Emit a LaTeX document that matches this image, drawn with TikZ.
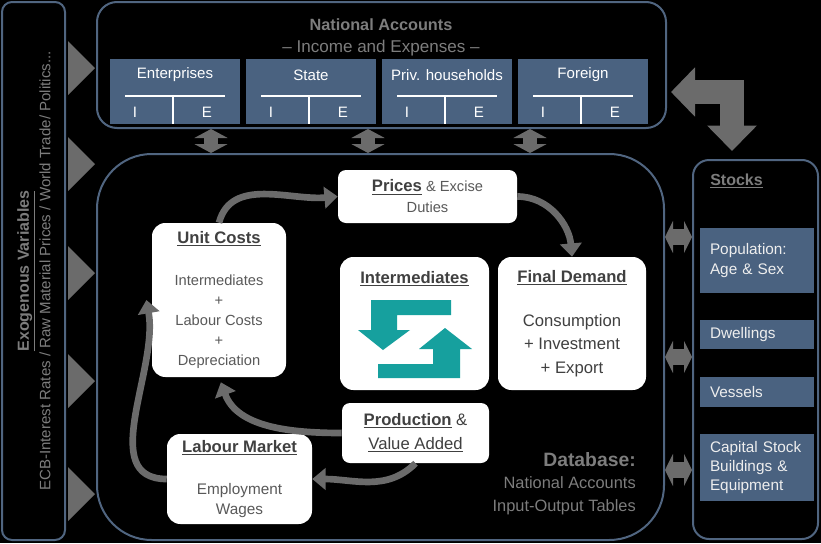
\documentclass[tikz,border=0pt]{standalone}
\usepackage{fontspec}
\setmainfont{Liberation Sans}
\usetikzlibrary{arrows.meta,positioning}

\definecolor{frameblue}{RGB}{80,101,128}
\definecolor{accblue}{RGB}{74,98,128}
\definecolor{arrgray}{RGB}{107,107,107}
\definecolor{txtgray}{RGB}{125,125,125}
\definecolor{boxtext}{RGB}{64,64,64}
\definecolor{boxbody}{RGB}{89,89,89}
\definecolor{stocktext}{RGB}{238,238,238}
\definecolor{iconteal}{RGB}{22,160,158}

\newcommand\headu[1]{{\color{boxtext}\bfseries\fontsize{12.5}{15}\selectfont\underline{#1}}}

\begin{document}
\begin{tikzpicture}[x=0.75pt,y=-0.75pt]
      \tikzset{
      frame/.style={draw=frameblue, line width=1.5pt, rounded corners=#1, inner sep=0pt},
      frame/.default=7.5pt,
      acc/.style={fill=accblue, inner sep=0pt, minimum width=97.5pt, minimum height=48.75pt},
      acctext/.style={text=white, inner sep=0pt, font=\fontsize{11.3}{13}\selectfont},
      stock/.style={fill=accblue, inner sep=0pt, minimum width=85.5pt, text width=70.5pt,
        align=left, text=stocktext, font=\fontsize{11.5}{14.5}\selectfont},
      wbox/.style={fill=white, rounded corners=#1, inner sep=0pt, align=center, text=boxbody},
      wbox/.default=10pt,
      gtext/.style={text=txtgray, inner sep=0pt},
      conn/.style={draw=arrgray, line width=5pt, -{Triangle[width=16pt,length=10pt]}},
      vlink/.style={draw=arrgray, line width=10.5pt,
        {Triangle[width=24.75pt,length=6.75pt]}-{Triangle[width=24.75pt,length=6.75pt]}},
      hlink/.style={draw=arrgray, line width=12pt,
        {Triangle[width=24pt,length=6pt]}-{Triangle[width=24pt,length=6pt]}},
      biglink/.style={draw=arrgray, line width=17.5pt, line join=miter,
        {Triangle[width=36pt,length=18pt]}-{Triangle[width=36pt,length=19pt]}},
      }

      \fill[black] (0,0) rectangle (821,543);
      \useasboundingbox (0,0) rectangle (821,543);

      %Exogenous variables
      \node[frame, minimum width=47.25pt, minimum height=403.5pt] (exo) at (33.5,271) {};
      \node[gtext, rotate=90, font=\bfseries\fontsize{12}{14}\selectfont] (exotitle) at (26,271) {\underline{Exogenous Variables}};
      \node[gtext, rotate=90, font=\fontsize{11.3}{14}\selectfont] (exolist) at (45,271) {ECB-Interest Rates / Raw Material Prices / World Trade/ Politics...};
      \foreach \ty in {68,164,273,381,494}
        \fill[arrgray] (68,\ty-27) -- (95,\ty) -- (68,\ty+27) -- cycle;

      %National accounts
      \node[frame=15pt, minimum width=426.75pt, minimum height=94.5pt] (natacc) at (381.5,65) {};
      \node[gtext, font=\bfseries\fontsize{12.2}{14}\selectfont] (natitle) at (381,25) {National Accounts};
      \node[gtext, font=\fontsize{12.8}{14}\selectfont] (nasub) at (381,48) {-- Income and Expenses --};
      \foreach \cx/\accname/\nm in {175/Enterprises/ent, 311/State/state, 447/Priv. households/priv, 583/Foreign/for}{
        \node[acc] (\nm) at (\cx,91.5) {};
        \node[acctext] (\nm-t) at (\cx,75) {\accname};
        \draw[white, line width=1.5pt] (\cx-50,96) -- (\cx+50,96);
        \draw[white, line width=1.5pt] (\cx-2,96) -- (\cx-2,124);
        \node[acctext] (\nm-i) at (\cx-40,112) {I};
        \node[acctext] (\nm-e) at (\cx+32,112) {E};
      }

      %Database
      \node[frame=41pt, minimum width=425.25pt, minimum height=289.5pt] (db) at (380.5,347) {};
      \node[gtext, anchor=east, font=\bfseries\fontsize{14.5}{17}\selectfont] (dbtitle) at (636,460) {Database:};
      \node[gtext, anchor=east, font=\fontsize{12.3}{15}\selectfont] (dbline1) at (636,483) {National Accounts};
      \node[gtext, anchor=east, font=\fontsize{12.3}{15}\selectfont] (dbline2) at (636,507) {Input-Output Tables};

      %Stocks
      \node[frame=12pt, minimum width=93.75pt, minimum height=284.25pt] (stocks) at (755.5,349.5) {};
      \node[gtext, anchor=west, font=\bfseries\fontsize{12}{14}\selectfont] (stockstitle) at (710,181) {\underline{Stocks}};
      \node[stock, minimum height=48.75pt] (pop) at (757,260.5) {Population:\\Age \& Sex};
      \node[stock, minimum height=21.75pt] (dwell) at (757,334.5) {Dwellings};
      \node[stock, minimum height=22.5pt] (vessel) at (757,392) {Vessels};
      \node[stock, minimum height=50.25pt] (capital) at (757,467.5) {Capital Stock\\Buildings \&\\Equipment};

      %links between the blocks
      \foreach \ax in {211,368,530}
        \draw[vlink] (natacc.south -| \ax,0) -- (db.north -| \ax,0);
      \foreach \ay in {237,357,470}
        \draw[hlink] (db.east |- 0,\ay) -- (stocks.west |- 0,\ay);
      \draw[biglink, shorten <=3pt, shorten >=6pt] (natacc.east |- 0,92) -| (stocks.north -| 732,0);

      %model boxes
      \node[wbox=6pt, minimum width=134.25pt, minimum height=39.75pt, font=\fontsize{11}{15.75}\selectfont] (prices) at (427.5,196.5) {\headu{Prices} \& Excise\\Duties};
      \node[wbox, minimum width=100.5pt, minimum height=115.5pt, font=\fontsize{11}{15}\selectfont] (unitcosts) at (219,300) {\headu{Unit Costs}\\[16.5pt]Intermediates\\+\\Labour Costs\\+\\Depreciation};
      \node[wbox, minimum width=111.75pt, minimum height=99.75pt] (intermed) at (414.5,323.5) {};
      \node[inner sep=0pt, below=10.5pt of intermed.north] (intertitle) {\headu{Intermediates}};
      \node[wbox, text=boxtext, minimum width=111pt, minimum height=99.75pt, font=\fontsize{12.5}{17.6}\selectfont] (finaldemand) at (572,323.5) {\headu{Final Demand}\\[15.4pt]Consumption\\+ Investment\\+ Export};
      \node[wbox=6pt, text=boxtext, minimum width=110.25pt, minimum height=45pt, font=\fontsize{12.5}{18}\selectfont] (production) at (415.5,433) {\headu{Production} \&\\\underline{Value Added}};
      \node[wbox, minimum width=108.75pt, minimum height=67.5pt, font=\fontsize{11.5}{15}\selectfont] (labour) at (239.5,479) {\headu{Labour Market}\\[16.5pt]Employment\\Wages};

      %icon
      \fill[iconteal] (371,300) -- (451,300) -- (451,315) -- (397,315) -- (397,330) -- (410,330) -- (383,350) -- (358,330) -- (371,330) -- cycle;
      \fill[iconteal] (460,378) -- (378,378) -- (378,364) -- (433,364) -- (433,349) -- (419,349) -- (445,328) -- (472,349) -- (460,349) -- cycle;

      %cycle
      \draw[conn] (unitcosts.north) to[out=75, in=185] (prices.west);
      \draw[conn] (prices.east) to[out=0, in=95] (finaldemand.north);
      \draw[conn, shorten >=4pt] (production.west) to[out=180, in=-70] (unitcosts.south);
      \draw[conn] (production.south) to[out=-135, in=0] (labour.east);
      \draw[conn] (labour.west) to[out=180, in=-80] ([xshift=-4pt]unitcosts.west);
\end{tikzpicture}
\end{document}
